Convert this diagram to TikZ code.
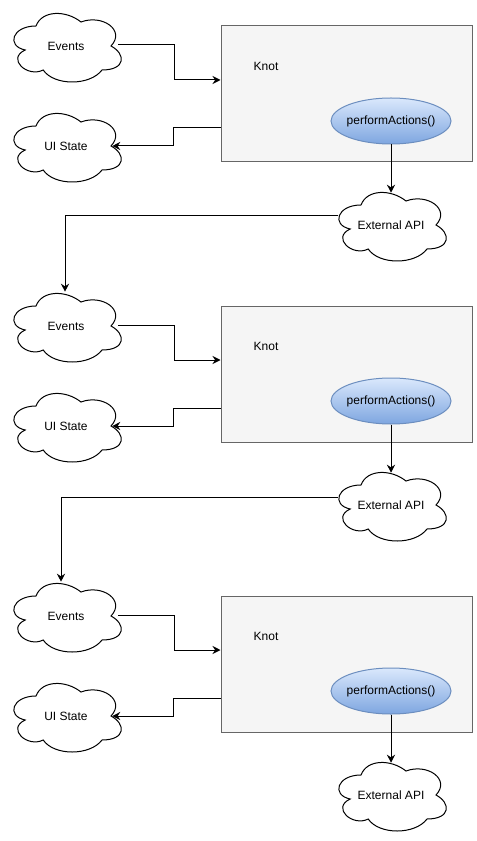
\documentclass[tikz,border=0pt]{standalone}
\usepackage{fontspec}
\setmainfont{Liberation Sans}
\usetikzlibrary{arrows.meta,calc,shapes.geometric}
\definecolor{knotfill}{HTML}{F5F5F5}
\definecolor{knotline}{HTML}{666666}
\definecolor{patop}{HTML}{DAE8FC}
\definecolor{pabot}{HTML}{7EA6E0}
\definecolor{paline}{HTML}{6C8EBF}
\newcommand\cloudshape[2]{%
  \begin{scope}[shift={(#1-60,#2-40)}, xscale=120, yscale=80]
  \draw[line width=0.75pt]
      (0.25,0.25) .. controls (0.05,0.25) and (0,0.5) .. (0.16,0.55)
      .. controls (0,0.66) and (0.18,0.9) .. (0.31,0.8)
      .. controls (0.4,1) and (0.7,1) .. (0.8,0.8)
      .. controls (1,0.8) and (1,0.6) .. (0.875,0.5)
      .. controls (1,0.3) and (0.8,0.1) .. (0.625,0.2)
      .. controls (0.5,0.05) and (0.3,0.05) .. (0.25,0.25) -- cycle;
  \end{scope}}
\tikzset{
  lbl/.style={font=\fontsize{9}{11}\selectfont},
  cloudbox/.style={lbl, shape=rectangle, minimum width=90pt, minimum height=60pt, inner sep=0pt},
  knotbox/.style={draw=knotline, fill=knotfill, line width=0.75pt, minimum width=188.25pt, minimum height=102pt, inner sep=0pt},
  pabox/.style={lbl, ellipse, draw=paline, line width=0.75pt, top color=patop, bottom color=pabot, minimum width=90pt, minimum height=34.5pt, inner xsep=-12pt, inner ysep=0pt},
  conn/.style={draw, line width=0.75pt, -{Stealth[length=6pt,width=6pt,inset=2pt]}}
}
\begin{document}
\begin{tikzpicture}[x=0.75pt,y=-0.75pt]
\fill[white] (0,0) rectangle (477,841);
\useasboundingbox (0,0) rectangle (477,841);
\foreach \i/\o in {1/0,2/280,3/570}{
  \cloudshape{66}{46+\o}
  \cloudshape{66}{146+\o}
  \cloudshape{391}{225+\o}
  \node[knotbox] (knot\i) at (346.5,94+\o) {};
  \node[lbl] (kt\i) at (266,66+\o) {Knot};
  \node[pabox] (pa\i) at (391,121+\o) {performActions()};
  \node[cloudbox] (ev\i) at (66,46+\o) {Events};
  \node[cloudbox] (ui\i) at (66,146+\o) {UI State};
  \node[cloudbox] (api\i) at (391,225+\o) {External API};
  \draw[conn] ($(ev\i.east)+(-8,-1)$) -- ++(56,0) |- ($(knot\i.west)+(0,-14)$);
  \draw[conn] ($(knot\i.west)+(0,34)$) -- ++(-47,0) |- ($(ui\i.east)+(-14,0)$);
  \draw[conn] (pa\i.south) -- ($(api\i.north)+(0,8)$);
}
\draw[conn] ($(api1.west)+(7,-9)$) -| ($(ev2.north)+(-1,6)$);
\draw[conn] ($(api2.west)+(7,-8)$) -| ($(ev3.north)+(-5,6)$);
\end{tikzpicture}
\end{document}
